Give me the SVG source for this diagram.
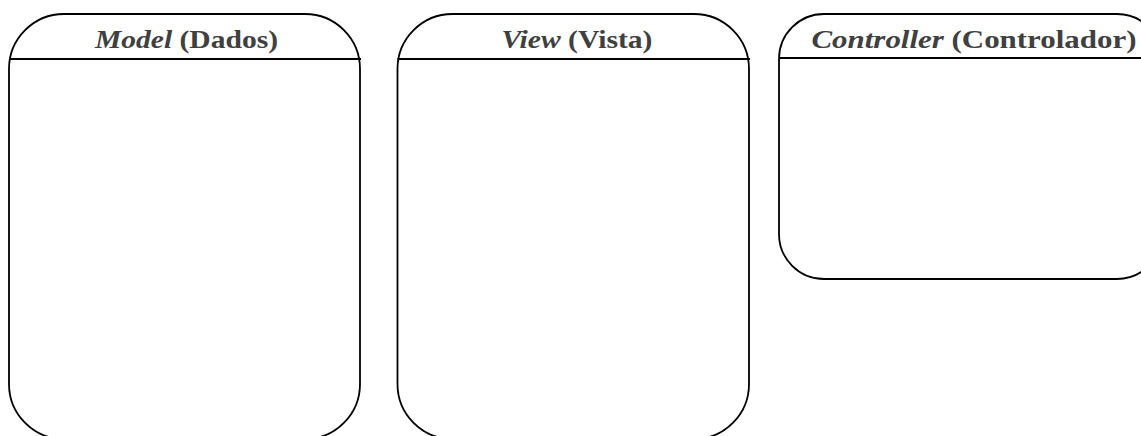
<svg xmlns="http://www.w3.org/2000/svg" width="1141" height="436" viewBox="0 0 1141 436">
  <style>
    .box { fill: #ffffff; stroke: #000000; stroke-width: 1.8; }
    .rule { stroke: #000000; stroke-width: 1.8; }
    .title { font-family: "Liberation Serif", "Times New Roman", serif; font-size: 26px; font-weight: bold; fill: #404040; text-anchor: middle; }
    .en { font-style: italic; }
  </style>
  <rect width="1141" height="436" fill="#ffffff"/>

  <!-- Model -->
  <g id="model">
    <rect class="box" x="9" y="14" width="351" height="425" rx="55" ry="55"/>
    <line class="rule" x1="9" y1="59" x2="361" y2="59"/>
    <text class="title" x="186.5" y="48" textLength="183" lengthAdjust="spacingAndGlyphs"><tspan class="en">Model</tspan> (Dados)</text>
  </g>

  <!-- View -->
  <g id="view">
    <rect class="box" x="397.5" y="14" width="351.5" height="425" rx="55" ry="55"/>
    <line class="rule" x1="397.5" y1="59" x2="750" y2="59"/>
    <text class="title" x="577" y="48" textLength="151" lengthAdjust="spacingAndGlyphs"><tspan class="en">View</tspan> (Vista)</text>
  </g>

  <!-- Controller -->
  <g id="controller">
    <rect class="box" x="779" y="14" width="383" height="265" rx="45" ry="45"/>
    <line class="rule" x1="779" y1="58" x2="1141" y2="58"/>
    <text class="title" x="974" y="48" textLength="325" lengthAdjust="spacingAndGlyphs"><tspan class="en">Controller</tspan> (Controlador)</text>
  </g>

  <g id="connectors"/>
</svg>
